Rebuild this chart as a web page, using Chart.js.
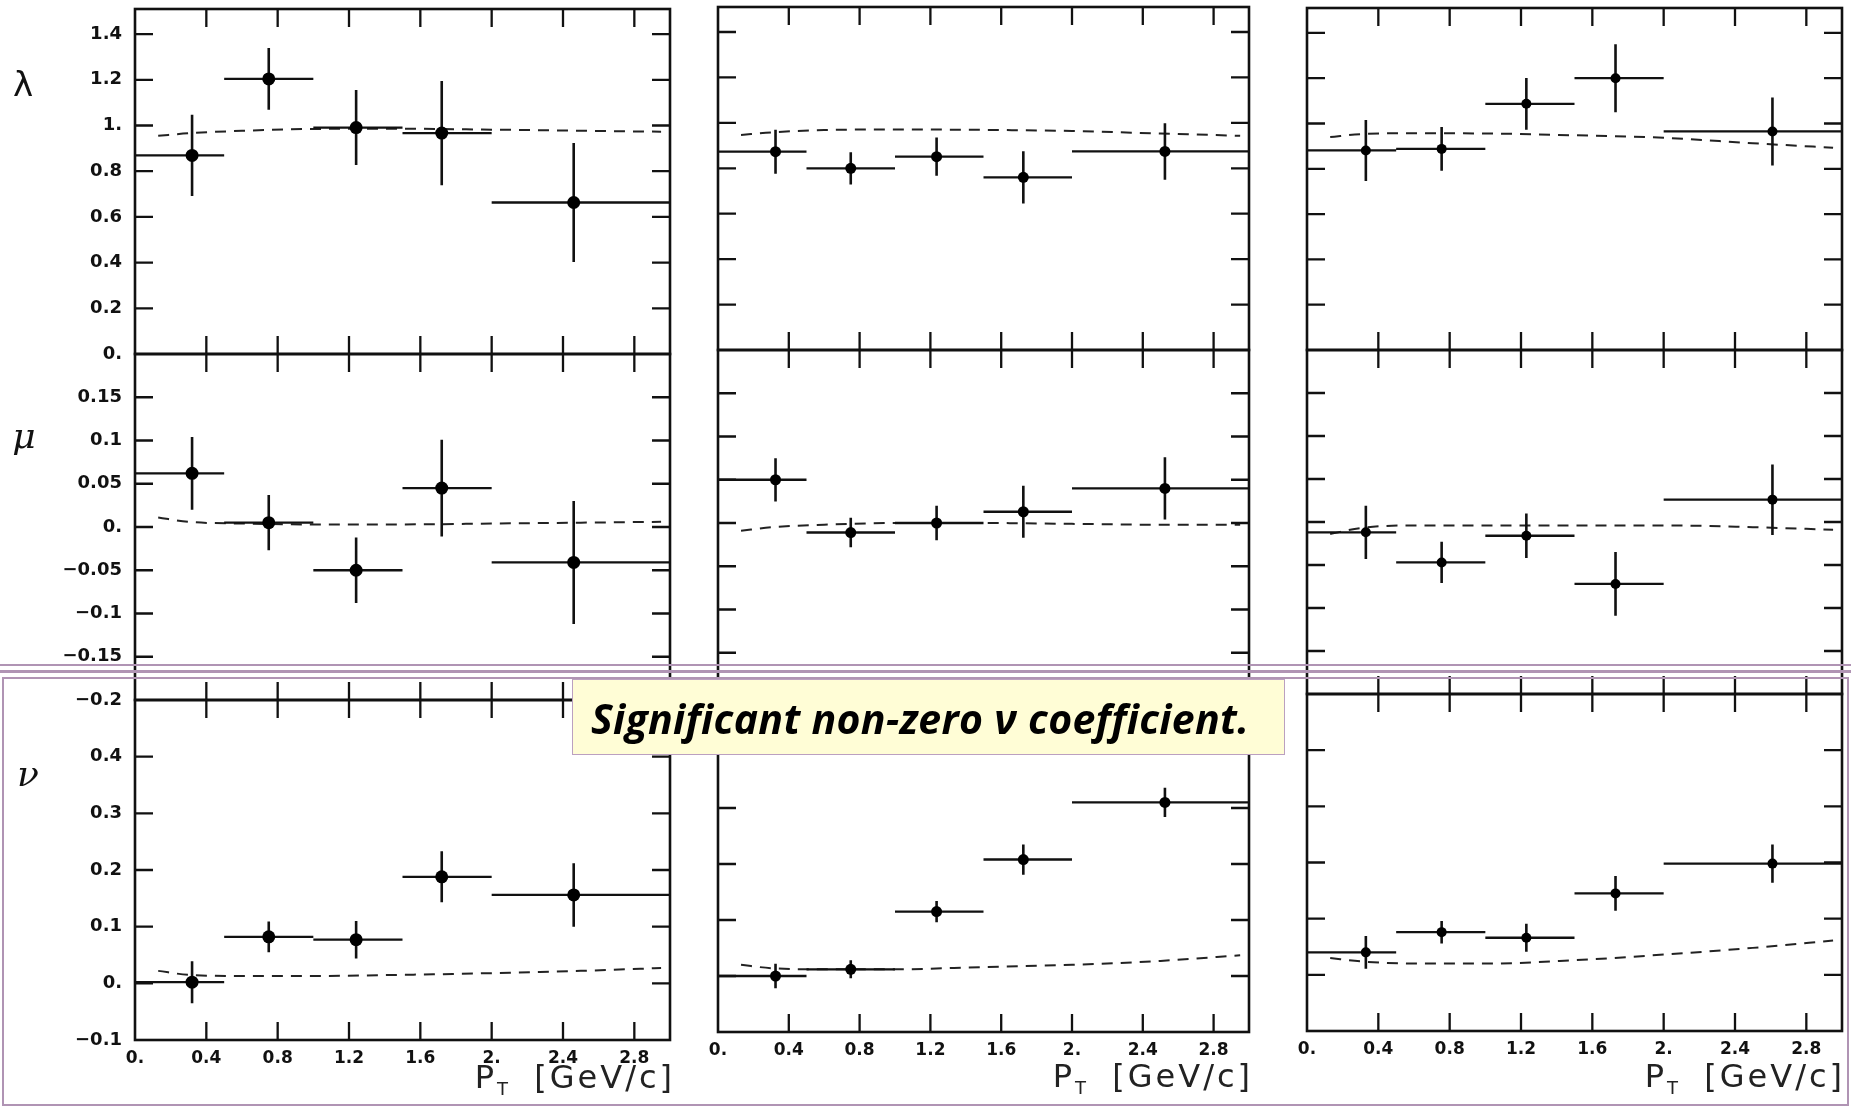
<!DOCTYPE html>
<html>
<head>
<meta charset="utf-8">
<title>lambda, mu, nu vs PT</title>
<script src="https://cdn.jsdelivr.net/npm/chart.js@4.4.1/dist/chart.umd.min.js"></script>
<style>
  body { margin: 0; background: #fff; width: 1851px; height: 1110px; overflow: hidden; position: relative; font-family: "DejaVu Sans", sans-serif; }
  canvas { position: absolute; }
  .greek { position: absolute; width: 44px; text-align: center; line-height: 44px; color: #111; }
  .pt { position: absolute; font-family: "DejaVu Sans", sans-serif; font-size: 32px; letter-spacing: 3px; color: #222; text-align: right; white-space: nowrap; }
  .pt sub { font-size: 18px; letter-spacing: 0; vertical-align: -7px; }
  .band { position: absolute; left: 0; width: 1851px; height: 2.5px; background: #b094b4; }
  #frame { position: absolute; left: 2px; top: 677px; width: 1843px; height: 425px; border: 2.5px solid #b094b4; }
  #note { position: absolute; left: 572px; top: 679px; width: 693px; height: 74px; background: #fffdd6; border: 1.5px solid #bba0c0;
          font-family: "Open Sans", sans-serif; font-weight: bold; font-style: italic; font-size: 41px; letter-spacing: 0.3px;
          line-height: 76px; padding-left: 18px; color: #000; white-space: nowrap; overflow: hidden; }
</style>
</head>
<body>

<div class="greek" style="left:1px; top:62px; font-size:34px;">λ</div>
<div class="greek" style="left:2px; top:414px; font-size:36px; font-family:'DejaVu Serif'; font-style:italic;">μ</div>
<div class="greek" style="left:6px; top:752px; font-size:36px; font-family:'DejaVu Serif'; font-style:italic;">ν</div>

<div class="band" style="top:663.5px"></div>
<div class="band" style="top:670px"></div>
<div id="frame"></div>

<div class="pt" style="right:1176px; top:1058px;">P<sub>T</sub>&nbsp;&nbsp;[GeV/c]</div>
<div class="pt" style="right:598px; top:1057px;">P<sub>T</sub>&nbsp;&nbsp;[GeV/c]</div>
<div class="pt" style="right:6px; top:1057px;">P<sub>T</sub>&nbsp;&nbsp;[GeV/c]</div>

<div id="note">Significant non-zero ν coefficient.</div>

<script>
// bins in PT and axis ticks
const ptBins = [[0, 0.5], [0.5, 1.0], [1.0, 1.5], [1.5, 2.0], [2.0, 3.0]];
const ptTicks = [0, 0.4, 0.8, 1.2, 1.6, 2.0, 2.4, 2.8];
const lambdaTicks = [0, 0.2, 0.4, 0.6, 0.8, 1.0, 1.2, 1.4];
const muTicks = [-0.2, -0.15, -0.1, -0.05, 0, 0.05, 0.1, 0.15];
const nuTicks = [-0.1, 0, 0.1, 0.2, 0.3, 0.4];

// mean PT in each bin (left, middle, right column)
const ptMeanA = [0.32, 0.75, 1.24, 1.72, 2.46];
const ptMeanB = [0.325, 0.75, 1.235, 1.725, 2.525];
const ptMeanC = [0.33, 0.755, 1.23, 1.73, 2.61];

// left column
const lambdaA = [0.869, 1.204, 0.991, 0.967, 0.663];
const lambdaAErr = [0.178, 0.135, 0.164, 0.228, 0.26];
const muA = [0.062, 0.005, -0.050, 0.045, -0.041];
const muAErr = [0.042, 0.032, 0.038, 0.056, 0.071];
const nuA = [0.002, 0.082, 0.077, 0.188, 0.156];
const nuAErr = [0.037, 0.027, 0.033, 0.045, 0.056];

// middle column
const lambdaB = [0.873, 0.80, 0.851, 0.76, 0.874];
const lambdaBErr = [0.097, 0.071, 0.084, 0.115, 0.124];
const muB = [0.050, -0.011, 0.0, 0.013, 0.040];
const muBErr = [0.025, 0.017, 0.020, 0.030, 0.036];
const nuB = [0.0, 0.012, 0.115, 0.208, 0.31];
const nuBErr = [0.022, 0.016, 0.019, 0.027, 0.026];

// right column
const lambdaC = [0.881, 0.888, 1.087, 1.20, 0.965];
const lambdaCErr = [0.135, 0.097, 0.114, 0.15, 0.15];
const muC = [-0.012, -0.047, -0.016, -0.072, 0.026];
const muCErr = [0.031, 0.024, 0.026, 0.037, 0.041];
const nuC = [0.040, 0.076, 0.066, 0.145, 0.198];
const nuCErr = [0.029, 0.020, 0.025, 0.031, 0.034];

// dashed model curves
const modelPt = [0.13, 0.3, 0.6, 1.0, 1.5, 2.0, 2.5, 2.95];
const lambdaAModel = [0.955, 0.966, 0.977, 0.985, 0.986, 0.982, 0.977, 0.973];
const muAModel = [0.011, 0.006, 0.004, 0.003, 0.003, 0.004, 0.005, 0.006];
const nuAModel = [0.022, 0.015, 0.013, 0.013, 0.015, 0.018, 0.022, 0.027];
const lambdaBModel = [0.947, 0.958, 0.968, 0.971, 0.969, 0.964, 0.953, 0.943];
const muBModel = [-0.009, -0.005, -0.002, 0.0, 0.0, -0.001, -0.002, -0.002];
const nuBModel = [0.020, 0.014, 0.012, 0.012, 0.016, 0.020, 0.027, 0.037];
const lambdaCModel = [0.94, 0.953, 0.957, 0.956, 0.948, 0.937, 0.913, 0.893];
const muCModel = [-0.014, -0.007, -0.004, -0.004, -0.004, -0.004, -0.006, -0.009];
const nuCModel = [0.030, 0.024, 0.020, 0.020, 0.026, 0.036, 0.048, 0.061];

// where the plot boxes sit on the page
const colX = [[135, 670], [718, 1249], [1307, 1842]];
const rowY = [
  [[9, 354], [354, 700], [700, 1040]],
  [[7, 350], [350, 696], [696, 1032]],
  [[8, 350], [350, 694], [694, 1031]]
];
const markerR = [6.5, 5.5, 5];
const PAD = 32, YAXIS_W = 80, XAXIS_H = 34;

const rows = [
  { ticks: lambdaTicks, min: 0, max: 1.51 },
  { ticks: muTicks, min: -0.2, max: 0.2 },
  { ticks: nuTicks, min: -0.1, max: 0.5 }
];
const columns = [
  { pt: ptMeanA, sets: [[lambdaA, lambdaAErr, lambdaAModel], [muA, muAErr, muAModel], [nuA, nuAErr, nuAModel]] },
  { pt: ptMeanB, sets: [[lambdaB, lambdaBErr, lambdaBModel], [muB, muBErr, muBModel], [nuB, nuBErr, nuBModel]] },
  { pt: ptMeanC, sets: [[lambdaC, lambdaCErr, lambdaCModel], [muC, muCErr, muCModel], [nuC, nuCErr, nuCModel]] }
];

function fmt(v) {
  const r = Math.round(v * 100) / 100;
  if (r === 0) return '0.';
  const s = Number.isInteger(r) ? r + '.' : String(r);
  return s.replace('-', '\u2212');
}

// box with inward ticks, drawn through the chart scales
const frameTicks = {
  id: 'frameTicks',
  afterDatasetsDraw(chart, args, opts) {
    const { ctx, chartArea: a } = chart;
    const x = chart.scales.x, y = chart.scales.y;
    ctx.save();
    ctx.strokeStyle = '#111';
    ctx.lineWidth = 2.6;
    ctx.strokeRect(a.left, a.top, a.right - a.left, a.bottom - a.top);
    ctx.lineWidth = 2.3;
    ctx.beginPath();
    ptTicks.forEach(v => {
      if (v <= x.min || v >= x.max) return;
      const px = x.getPixelForValue(v);
      ctx.moveTo(px, a.top); ctx.lineTo(px, a.top + 18);
      ctx.moveTo(px, a.bottom); ctx.lineTo(px, a.bottom - 18);
    });
    opts.ticks.forEach(v => {
      if (v <= y.min + 1e-9 || v >= y.max - 1e-9) return;
      const py = y.getPixelForValue(v);
      ctx.moveTo(a.left, py); ctx.lineTo(a.left + 18, py);
      ctx.moveTo(a.right, py); ctx.lineTo(a.right - 18, py);
    });
    ctx.stroke();
    ctx.restore();
  }
};

function makePanel(c, r) {
  const [x0, x1] = colX[c];
  const [y0, y1] = rowY[c][r];
  const left = c === 0, bottom = r === 2;
  const padL = PAD + (left ? YAXIS_W : 0);
  const padB = PAD + (bottom ? XAXIS_H : 0);

  const canvas = document.createElement('canvas');
  canvas.width = x1 - x0 + padL + PAD;
  canvas.height = y1 - y0 + PAD + padB;
  canvas.style.left = (x0 - padL) + 'px';
  canvas.style.top = (y0 - PAD) + 'px';
  document.body.insertBefore(canvas, document.body.firstChild);

  const col = columns[c];
  const [vals, errs, model] = col.sets[r];
  const hBars = [], vBars = [];
  vals.forEach((v, i) => {
    hBars.push({ x: ptBins[i][0], y: v }, { x: ptBins[i][1], y: v }, { x: ptBins[i][1], y: null });
    vBars.push({ x: col.pt[i], y: v - errs[i] }, { x: col.pt[i], y: v + errs[i] }, { x: col.pt[i], y: null });
  });

  const spec = rows[r];
  new Chart(canvas, {
    type: 'scatter',
    data: {
      datasets: [
        { data: vals.map((v, i) => ({ x: col.pt[i], y: v })), pointRadius: markerR[c], pointBackgroundColor: '#000', pointBorderWidth: 0 },
        { data: vBars, showLine: true, borderColor: '#111', borderWidth: 2.6, pointRadius: 0 },
        { data: hBars, showLine: true, borderColor: '#111', borderWidth: 2.3, pointRadius: 0 },
        { data: modelPt.map((x, i) => ({ x: x, y: model[i] })), showLine: true, borderColor: '#222', borderWidth: 2,
          borderDash: [11, 8], pointRadius: 0, cubicInterpolationMode: 'monotone' }
      ]
    },
    options: {
      responsive: false,
      devicePixelRatio: 1,
      animation: false,
      events: [],
      layout: { padding: { left: PAD, right: PAD, top: PAD, bottom: PAD } },
      plugins: { legend: { display: false }, tooltip: { enabled: false }, frameTicks: { ticks: spec.ticks } },
      scales: {
        x: {
          type: 'linear', min: 0, max: 3, display: bottom,
          grid: { display: false }, border: { display: false },
          afterBuildTicks: s => { s.ticks = ptTicks.map(v => ({ value: v })); },
          afterFit: s => { if (bottom) s.height = XAXIS_H; },
          ticks: { callback: v => fmt(v), autoSkip: false, maxRotation: 0, padding: 0,
                   color: '#111', font: { family: 'DejaVu Sans', weight: 'bold', size: 17 } }
        },
        y: {
          type: 'linear', min: spec.min, max: spec.max, display: left,
          grid: { display: false }, border: { display: false },
          afterBuildTicks: s => { s.ticks = spec.ticks.map(v => ({ value: v })); },
          afterFit: s => { if (left) s.width = YAXIS_W; },
          ticks: { callback: v => fmt(v), autoSkip: false, padding: 5,
                   color: '#111', font: { family: 'DejaVu Sans', weight: 'bold', size: 18 } }
        }
      }
    },
    plugins: [frameTicks]
  });
}

for (let c = 0; c < 3; c++) {
  for (let r = 0; r < 3; r++) makePanel(c, r);
}
</script>
</body>
</html>
